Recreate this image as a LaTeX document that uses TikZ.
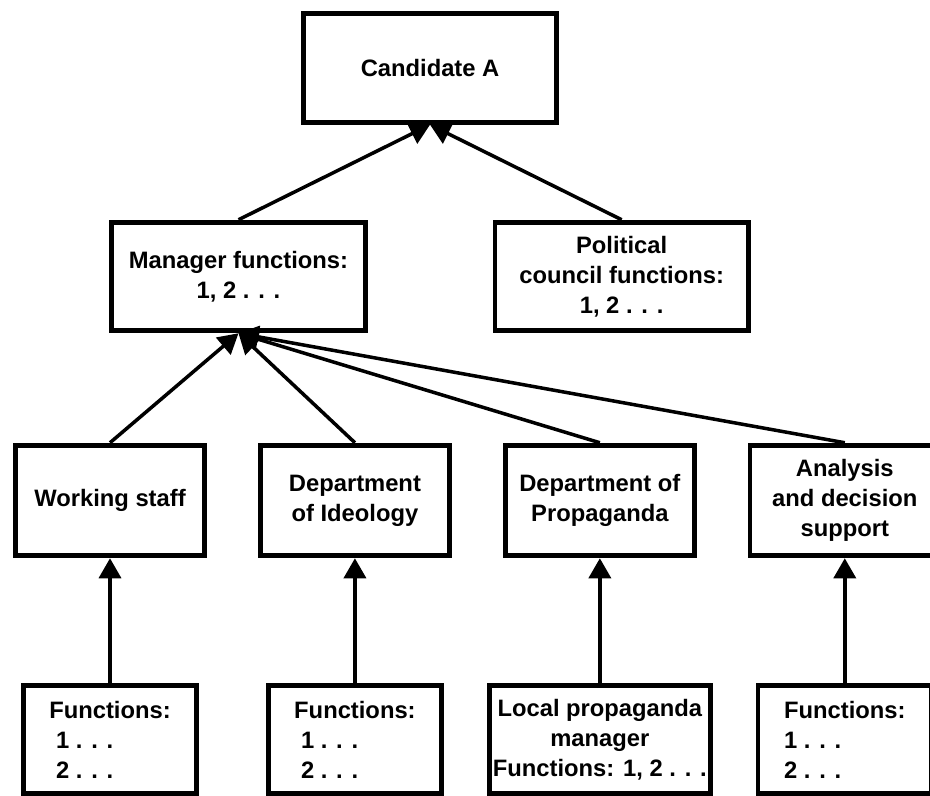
\documentclass[tikz,border=0pt]{standalone}
\usepackage{fontspec}
\setmainfont{Liberation Sans}
\usetikzlibrary{arrows.meta,positioning,calc}

\begin{document}
\begin{tikzpicture}[x=0.25mm, y=-0.25mm, >={Triangle[length=5mm,width=5.5mm]},
  every node/.style={font=\bfseries\fontsize{16.9}{21.3}\selectfont},
  bx/.style={draw, line width=3.5pt, align=center, inner sep=2pt},
  headbox/.style={bx, minimum width=63.3mm, minimum height=27.15mm},
  dept/.style={bx, minimum width=47.4mm, minimum height=27.65mm},
  fn/.style={bx, minimum width=43.4mm, minimum height=26.9mm},
  link/.style={->, line width=2.5pt}]
  \clip (0,0) rectangle (930,796);
  \node[headbox] (mgr) at (238.5,276.5) {Manager functions:\\1, 2 . . .};
  \node[headbox, right=31.25mm of mgr] (pol) {Political\\council functions:\\1, 2 . . .};
  \node[headbox, above=23.75mm of $(mgr.north)!0.5!(pol.north)$] (cand) {Candidate A};
  \draw[link] (mgr.north) -- (cand.south); \draw[link] (pol.north) -- (cand.south);

  \node[dept] (staff) at (110,500.5) {Working staff};
  \node[dept, right=12.6mm of staff] (ideo) {Department\\of Ideology};
  \node[dept, right=12.6mm of ideo] (prop) {Department of\\Propaganda};
  \node[dept, right=12.6mm of prop] (anal) {Analysis\\and decision\\support};
  \draw[link] (staff.north) -- (mgr.south); \draw[link] (ideo.north) -- (mgr.south);
  \draw[link] (prop.north) -- (mgr.south); \draw[link] (anal.north) -- (mgr.south);

  \node[fn, align=left, below=31.25mm of staff] (f1) {Functions:\\\hspace*{1.7mm}1 . . .\\\hspace*{1.7mm}2 . . .};
  \node[fn, align=left, below=31.25mm of ideo] (f2) {Functions:\\\hspace*{1.7mm}1 . . .\\\hspace*{1.7mm}2 . . .};
  \node[fn, minimum width=55.15mm, below=31.25mm of prop] (f3) {Local propaganda\\manager\\Functions: 1, 2 . . .};
  \node[fn, align=left, below=31.25mm of anal] (f4) {Functions:\\1 . . .\\2 . . .};
  \draw[link] (f1.north) -- (staff.south); \draw[link] (f2.north) -- (ideo.south);
  \draw[link] (f3.north) -- (prop.south); \draw[link] (f4.north) -- (anal.south);
\end{tikzpicture}
\end{document}
